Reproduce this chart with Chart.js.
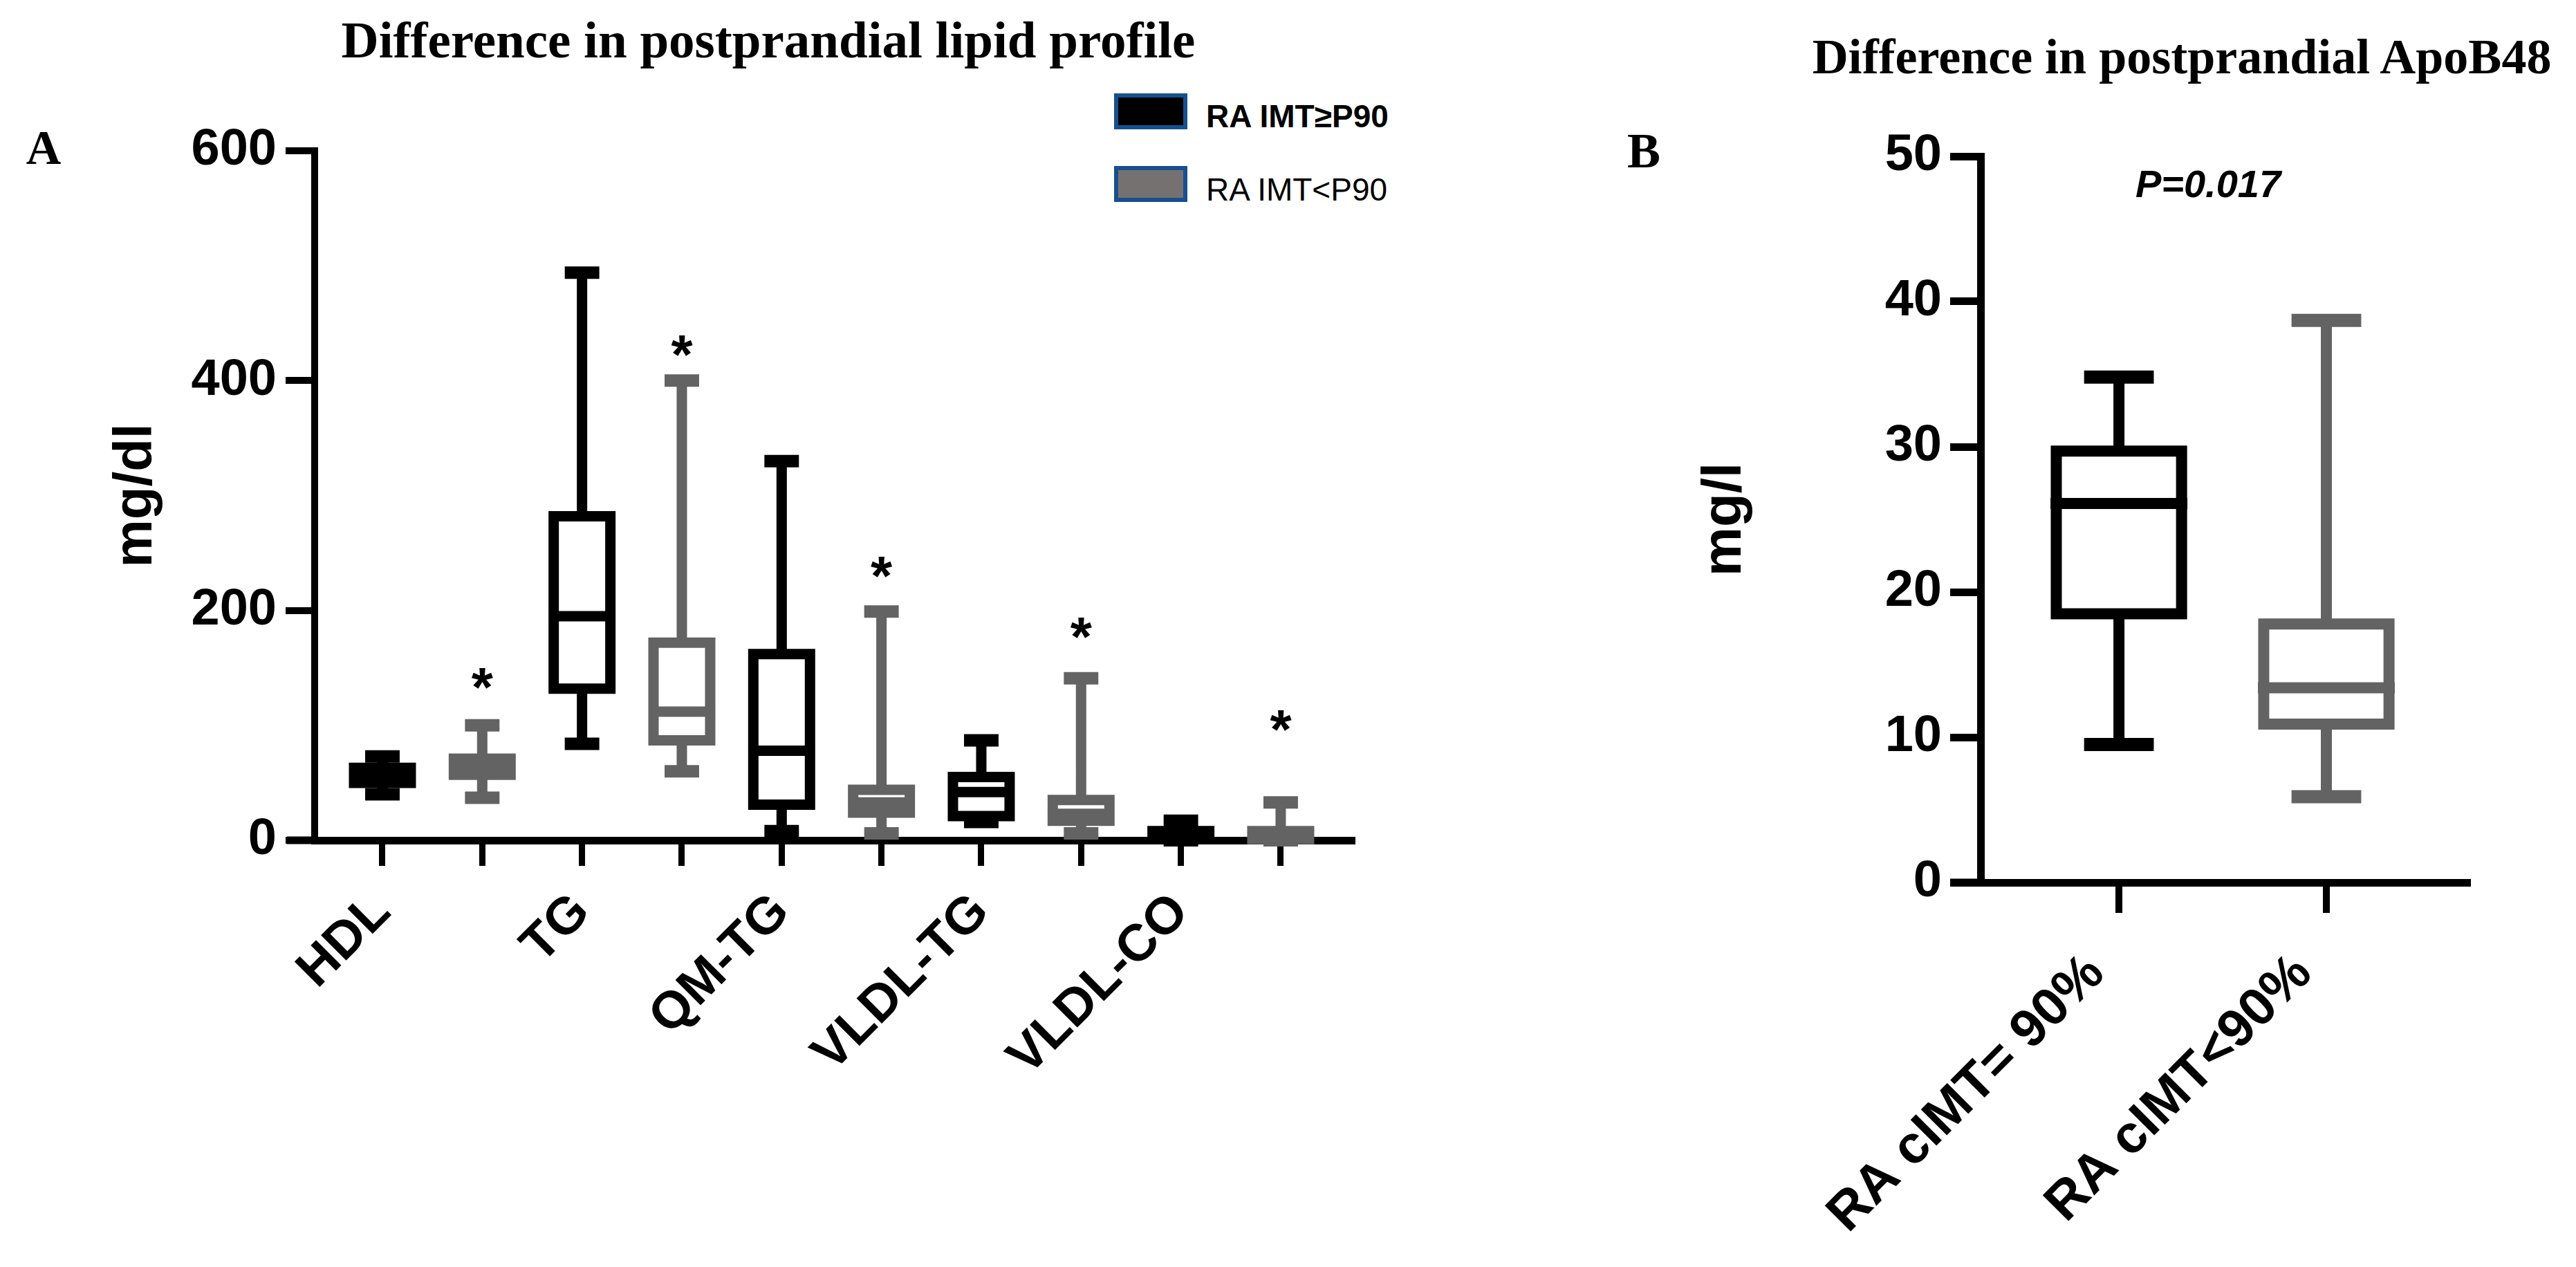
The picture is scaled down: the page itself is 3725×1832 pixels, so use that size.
<!DOCTYPE html>
<html>
<head>
<meta charset="utf-8">
<script src="https://cdn.jsdelivr.net/npm/chart.js@4.4.1/dist/chart.umd.min.js"></script>
<style>
  html, body { margin: 0; padding: 0; background: #fff; }
  body { width: 3725px; height: 1832px; position: relative; overflow: hidden; }
  canvas { position: absolute; top: 0; }
  #chartA { left: 0; }
  #chartB { left: 2222px; }
  .txt { position: absolute; white-space: nowrap; line-height: 1; transform: translate(-50%, -50%); color: #000; }
  .serif { font-family: "Liberation Serif", "Times New Roman", serif; font-weight: bold; }
  .sans { font-family: "Liberation Sans", Arial, sans-serif; }
  .key { position: absolute; box-sizing: border-box; border: 6px solid #16508f; width: 106px; height: 52px; }
</style>
</head>
<body>
<div class="txt serif" style="left:1111px; top:57px; font-size:75px;">Difference in postprandial lipid profile</div>
<div class="txt serif" style="left:63px; top:214px; font-size:70px;">A</div>
<div class="key" style="left:1611px; top:135px; background:#000;"></div>
<div class="key" style="left:1611px; top:240px; background:#767171;"></div>
<div class="txt sans" style="left:1744px; top:168px; font-size:46px; font-weight:bold; transform:translateY(-50%);">RA IMT≥P90</div>
<div class="txt sans" style="left:1744px; top:274px; font-size:46px; transform:translateY(-50%);">RA IMT&lt;P90</div>

<div class="txt serif" style="left:3155px; top:82px; font-size:72px;">Difference in postprandial ApoB48</div>
<div class="txt serif" style="left:2377px; top:218px; font-size:72px;">B</div>
<div class="txt sans" style="left:3193px; top:266px; font-size:56px; font-weight:bold; font-style:italic;">P=0.017</div>

<canvas id="chartA" width="2222" height="1832"></canvas>
<canvas id="chartB" width="1503" height="1832"></canvas>

<script>
// panel A: postprandial lipid profile, two groups per lipid
const lipidNames = ["HDL", "TG", "QM-TG", "VLDL-TG", "VLDL-CO"];
const highMin = [40, 84, 8, 16, 0];
const highQ1 = [50, 132, 31, 21, 1];
const highMedian = [56, 195, 78, 42, 3];
const highQ3 = [63, 282, 162, 55, 8];
const highMax = [73, 494, 330, 87, 17];
const lowMin = [37, 60, 6, 6, 0];
const lowQ1 = [57, 87, 24, 17, 1];
const lowMedian = [63, 112, 33, 23, 3];
const lowQ3 = [71, 172, 44, 35, 8];
const lowMax = [100, 400, 199, 141, 33];
const starLevels = [141, 430, 238, 185, 104];
const lipidTicks = [0, 200, 400, 600];

// panel B: ApoB48
const apoGroups = ["RA cIMT= 90%", "RA cIMT<90%"];
const apoMin = [9.5, 5.9];
const apoQ1 = [18.5, 10.9];
const apoMedian = [26.1, 13.4];
const apoQ3 = [29.7, 17.8];
const apoMax = [34.8, 38.7];
const apoTicks = [0, 10, 20, 30, 40, 50];

const BLACK = "#000000";
const GREY = "#636363";
const FONT = "'Liberation Sans', Arial, sans-serif";

Chart.defaults.font.family = FONT;
Chart.defaults.color = "#000";

// box plot drawn as line datasets: outline + median + whiskers, caps separately
function boxSeries(label, pos, mins, q1, med, q3, maxs, color, dims) {
  const body = [];
  const caps = [];
  pos.forEach((p, i) => {
    const gap = { x: p, y: null };
    body.push(
      { x: p, y: q1[i] }, { x: p + dims.half, y: q1[i] }, { x: p + dims.half, y: q3[i] },
      { x: p - dims.half, y: q3[i] }, { x: p - dims.half, y: q1[i] }, { x: p, y: q1[i] }, gap,
      { x: p - dims.med, y: med[i] }, { x: p + dims.med, y: med[i] }, gap,
      { x: p, y: q3[i] }, { x: p, y: maxs[i] }, gap,
      { x: p, y: mins[i] }, { x: p, y: q1[i] }, gap
    );
    caps.push(
      { x: p - dims.cap, y: maxs[i] }, { x: p + dims.cap, y: maxs[i] }, gap,
      { x: p - dims.cap, y: mins[i] }, { x: p + dims.cap, y: mins[i] }, gap
    );
  });
  const common = {
    type: "line",
    borderColor: color,
    borderCapStyle: "butt",
    borderJoinStyle: "miter",
    pointRadius: 0,
    pointHoverRadius: 0,
    tension: 0,
    spanGaps: false,
    clip: false,
    fill: false,
  };
  return [
    Object.assign({}, common, { label: label, data: body, borderWidth: dims.body }),
    Object.assign({}, common, { label: label + " caps", data: caps, borderWidth: dims.capWidth }),
  ];
}

const axisStub = {
  id: "axisStub",
  afterDraw(chart, args, opts) {
    const { ctx, chartArea } = chart;
    ctx.save();
    ctx.strokeStyle = "#000";
    ctx.lineWidth = opts.width;
    ctx.beginPath();
    ctx.moveTo(chartArea.left - opts.length, chartArea.bottom);
    ctx.lineTo(chartArea.left + 2, chartArea.bottom);
    ctx.stroke();
    ctx.restore();
  },
};

const stars = {
  id: "stars",
  afterDatasetsDraw(chart, args, opts) {
    if (!opts.levels) return;
    const { ctx } = chart;
    const xs = chart.scales.x;
    const ys = chart.scales.y;
    ctx.save();
    ctx.fillStyle = "#000";
    ctx.font = "bold 80px " + FONT;
    ctx.textAlign = "center";
    ctx.textBaseline = "alphabetic";
    const m = ctx.measureText("*");
    const shift = (m.actualBoundingBoxAscent - m.actualBoundingBoxDescent) / 2;
    opts.levels.forEach((v, i) => {
      const x = xs.getPixelForValue(opts.positions[i]);
      const y = ys.getPixelForValue(v);
      ctx.fillText("*", x, y + shift);
    });
    ctx.restore();
  },
};

function axisOptions(o) {
  return {
    grid: { display: true, drawOnChartArea: false, drawTicks: true, tickLength: o.tickLength, lineWidth: o.tickWidth, color: "#000" },
    border: { display: true, width: o.borderWidth, color: "#000" },
  };
}

// ---------- panel A ----------
const highPos = lipidNames.map((_, i) => 2 * i + 1);
const lowPos = lipidNames.map((_, i) => 2 * i + 2);
const dimsA = { half: 0.284, med: 0.336, cap: 0.173, body: 15, capWidth: 18 };

new Chart(document.getElementById("chartA"), {
  type: "line",
  data: {
    datasets: [
      ...boxSeries("RA IMT≥P90", highPos, highMin, highQ1, highMedian, highQ3, highMax, BLACK, dimsA),
      ...boxSeries("RA IMT<P90", lowPos, lowMin, lowQ1, lowMedian, lowQ3, lowMax, GREY, dimsA),
    ],
  },
  options: {
    responsive: false,
    devicePixelRatio: 1,
    animation: false,
    events: [],
    layout: { padding: { left: 151, top: 218, right: 267, bottom: 0 } },
    plugins: {
      legend: { display: false },
      tooltip: { enabled: false },
      axisStub: { width: 11, length: 40 },
      stars: { levels: starLevels, positions: lowPos },
    },
    scales: {
      x: Object.assign(axisOptions({ tickLength: 37, tickWidth: 9, borderWidth: 11 }), {
        type: "linear",
        min: 0.321,
        max: 10.714,
        afterBuildTicks: (s) => { s.ticks = highPos.concat(lowPos).sort((a, b) => a - b).map((v) => ({ value: v })); },
        afterFit: (s) => { s.height = 617; },
        ticks: {
          autoSkip: false,
          minRotation: 45,
          maxRotation: 45,
          padding: 23,
          color: "#000",
          font: { size: 75, weight: "bold" },
          callback: (v) => { const i = highPos.indexOf(v); return i >= 0 ? lipidNames[i] : ""; },
        },
      }),
      y: Object.assign(axisOptions({ tickLength: 42, tickWidth: 10, borderWidth: 10 }), {
        min: 0,
        max: 600,
        afterBuildTicks: (s) => { s.ticks = lipidTicks.map((v) => ({ value: v })); },
        afterFit: (s) => { s.width = 304; },
        ticks: { padding: 13, color: "#000", font: { size: 74, weight: "bold" } },
        title: { display: true, text: "mg/dl", color: "#000", padding: 0, font: { size: 78, weight: "bold" } },
      }),
    },
  },
  plugins: [axisStub, stars],
});

// ---------- panel B ----------
const apoPos = apoGroups.map((_, i) => i + 1);
const dimsB = { half: 0.302, med: 0.330, cap: 0.168, body: 16, capWidth: 19 };

new Chart(document.getElementById("chartB"), {
  type: "line",
  data: {
    datasets: [
      ...boxSeries(apoGroups[0], [apoPos[0]], [apoMin[0]], [apoQ1[0]], [apoMedian[0]], [apoQ3[0]], [apoMax[0]], BLACK, dimsB),
      ...boxSeries(apoGroups[1], [apoPos[1]], [apoMin[1]], [apoQ1[1]], [apoMedian[1]], [apoQ3[1]], [apoMax[1]], GREY, dimsB),
    ],
  },
  options: {
    responsive: false,
    devicePixelRatio: 1,
    animation: false,
    events: [],
    layout: { padding: { left: 225, top: 226, right: 157, bottom: 0 } },
    plugins: {
      legend: { display: false },
      tooltip: { enabled: false },
      axisStub: { width: 11, length: 44 },
      stars: {},
    },
    scales: {
      x: Object.assign(axisOptions({ tickLength: 44, tickWidth: 10, borderWidth: 11 }), {
        type: "linear",
        min: 0.333,
        max: 2.68,
        afterBuildTicks: (s) => { s.ticks = apoPos.map((v) => ({ value: v })); },
        afterFit: (s) => { s.height = 556; },
        ticks: {
          autoSkip: false,
          minRotation: 45,
          maxRotation: 45,
          padding: 43,
          labelOffset: -33,
          color: "#000",
          font: { size: 77, weight: "bold" },
          callback: (v) => { const i = apoPos.indexOf(v); return i >= 0 ? apoGroups[i] : ""; },
        },
      }),
      y: Object.assign(axisOptions({ tickLength: 44, tickWidth: 11, borderWidth: 11 }), {
        min: 0,
        max: 50,
        afterBuildTicks: (s) => { s.ticks = apoTicks.map((v) => ({ value: v })); },
        afterFit: (s) => { s.width = 417; },
        ticks: { padding: 12, color: "#000", font: { size: 74, weight: "bold" } },
        title: { display: true, text: "mg/l", color: "#000", padding: 0, font: { size: 80, weight: "bold" } },
      }),
    },
  },
  plugins: [axisStub, stars],
});
</script>
</body>
</html>
